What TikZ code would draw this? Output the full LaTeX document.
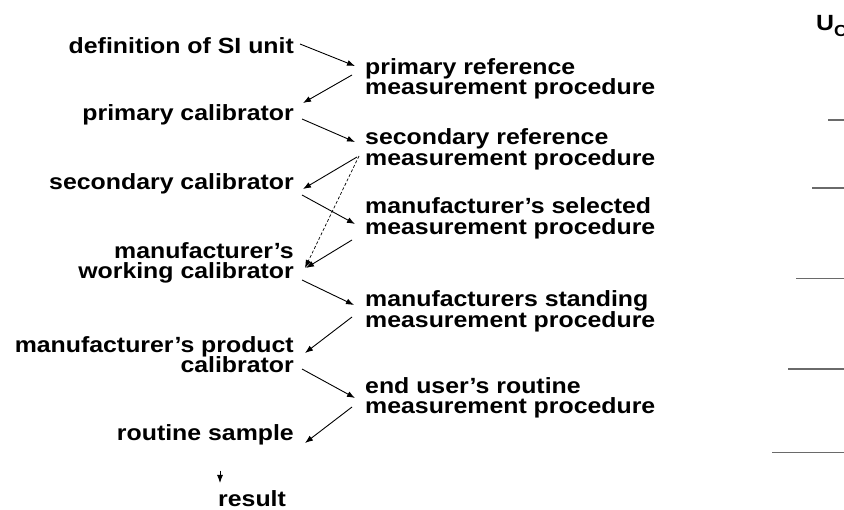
\documentclass[tikz,border=0pt]{standalone}
\usepackage{fontspec}
\setmainfont{Liberation Sans}[FakeStretch=1.13]
\usetikzlibrary{calc,arrows.meta}
\definecolor{tickgray}{HTML}{6A6A6A}
\newcommand\tightlines{\lineskiplimit=-100pt\relax\lineskip=0pt\relax}
\tikzset{
  lab/.style={inner sep=0pt, font=\fontsize{22}{20.5}\selectfont\bfseries\tightlines},
  lft/.style={lab, anchor=base east, align=right},
  rgt/.style={lab, anchor=base west, align=left},
  arr/.style={-{Latex[length=8pt,width=6pt]}, line width=0.9pt},
  dsh/.style={arr, line width=0.7pt, dash pattern=on 3pt off 2pt},
  tickline/.style={draw=tickgray, line width=1.4pt}
}
\begin{document}
\begin{tikzpicture}[x=1pt,y=1pt]
\useasboundingbox (0,0) rectangle (844,-510);
% left column (base = baseline of last line)
\node[lft] (def)  at (294,-54)    {definition of SI unit};
\node[lft] (pcal) at (294,-121)   {primary calibrator};
\node[lft] (scal) at (294,-190)   {secondary calibrator};
\node[lft] (wcal) at (294,-279)   {manufacturer's\\working calibrator};
\node[lft] (prod) at (294,-373)   {manufacturer's product\\calibrator};
\node[lft] (rs)   at (294,-441)   {routine sample};
\node[lab, anchor=base west] (res) at (218,-507) {result};
% right column
\node[rgt] (pref) at (365,-95)   {primary reference\\measurement procedure};
\node[rgt] (sref) at (365,-165.5){secondary reference\\measurement procedure};
\node[rgt] (msel) at (365,-234.5){manufacturer's selected\\measurement procedure};
\node[rgt] (mstd) at (365,-327.5){manufacturers standing\\measurement procedure};
\node[rgt] (eu)   at (365,-414)  {end user's routine\\measurement procedure};
% U_C
\node[lab, anchor=base west] (uc) at (816,-31) {U{\fontsize{16}{16}\selectfont\raisebox{-6pt}{C}}};
% arrows
\draw[arr] ($(def.base east)+(6,10)$)     -- ($(pref.base west)+(-10,29)$);
\draw[arr] ($(pref.base west)+(-13,20)$)  -- ($(pcal.base east)+(9,18)$);
\draw[arr] ($(pcal.base east)+(8,2)$)     -- ($(sref.base west)+(-10,23.5)$);
\draw[arr] ($(sref.base west)+(-8,8.5)$)  -- ($(scal.base east)+(9,1)$);
\draw[dsh] ($(sref.base west)+(-6,9.5)$)  -- ($(wcal.base east)+(11,11)$);
\draw[arr] ($(scal.base east)+(8,-5)$)    -- ($(msel.base west)+(-10,10.5)$);
\draw[arr] ($(msel.base west)+(-13,-5.5)$) -- ($(wcal.base east)+(12,11)$);
\draw[arr] ($(wcal.base east)+(8,-1)$)    -- ($(mstd.base west)+(-11,22.5)$);
\draw[arr] ($(mstd.base west)+(-13,10.5)$) -- ($(prod.base east)+(11,20)$);
\draw[arr] ($(prod.base east)+(8,4)$)     -- ($(eu.base west)+(-10,16)$);
\draw[arr] ($(eu.base west)+(-13,7)$)     -- ($(rs.base east)+(11,-2)$);
\draw[arr] ($(rs.base east)+(-74,-29.7)$) -- ($(res.base west)+(2,24)$);
% scale ticks
\draw[tickline] (828,-120) -- (844,-120);
\draw[tickline] (812,-188) -- (844,-188);
\draw[tickline] (796,-278.5) -- (844,-278.5);
\draw[tickline] (788,-369) -- (844,-369);
\draw[tickline] (772,-452.5) -- (844,-452.5);
\end{tikzpicture}
\end{document}
